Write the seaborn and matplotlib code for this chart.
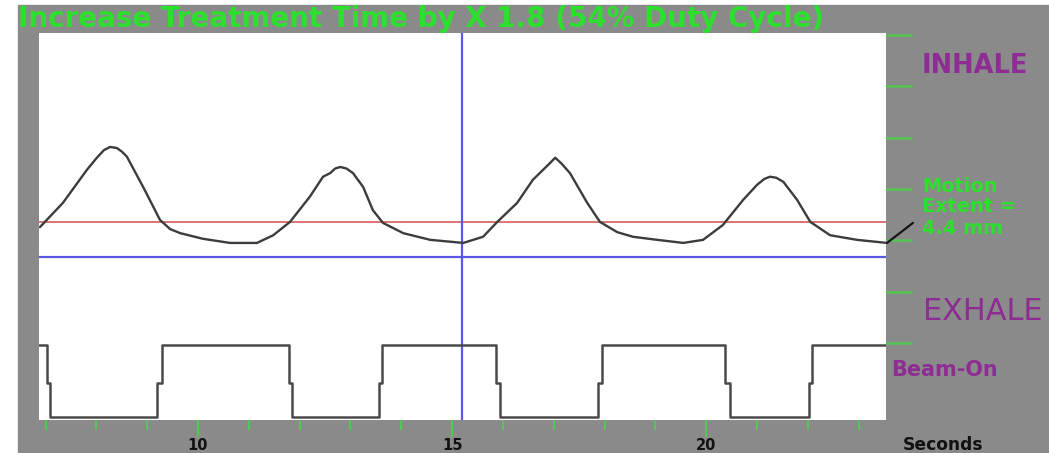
import matplotlib
matplotlib.use("Agg")
import matplotlib.pyplot as plt
from matplotlib.patches import Rectangle
import seaborn as sns
import pandas as pd

# ---------------- data ----------------
breath_time = [6.89, 7.34, 7.81, 8.00, 8.15, 8.27, 8.40, 8.50, 8.60, 8.92, 9.25, 9.45, 9.65,
               10.10, 10.63, 11.16, 11.48, 11.81, 12.20, 12.46, 12.60, 12.70, 12.80, 12.92,
               13.05, 13.25, 13.44, 13.64, 14.04, 14.57, 15.22, 15.61, 15.89, 16.28,
               16.59, 16.90, 17.03, 17.15, 17.32, 17.66, 17.91, 18.25, 18.56, 19.04, 19.55, 19.94,
               20.33, 20.73, 21.00, 21.15, 21.26, 21.38, 21.52, 21.79, 22.05, 22.44, 22.97, 23.56]
breath_pos = [3.26, 3.73, 4.37, 4.60, 4.76, 4.82, 4.80, 4.73, 4.63, 4.04, 3.40, 3.22, 3.14,
              3.03, 2.95, 2.95, 3.10, 3.36, 3.85, 4.24, 4.31, 4.40, 4.43, 4.40,
              4.31, 4.04, 3.59, 3.34, 3.14, 3.01, 2.95, 3.07, 3.36, 3.73,
              4.18, 4.48, 4.61, 4.50, 4.31, 3.73, 3.36, 3.16, 3.07, 3.01, 2.95, 3.01,
              3.30, 3.79, 4.08, 4.20, 4.24, 4.22, 4.14, 3.79, 3.36, 3.10, 3.01, 2.95]

beam_time = [6.87, 7.03, 7.03, 7.09, 7.09, 9.19, 9.19, 9.29, 9.29,
             11.80, 11.80, 11.85, 11.85, 13.57, 13.57, 13.62, 13.62,
             15.87, 15.87, 15.94, 15.94, 17.87, 17.87, 17.95, 17.95,
             20.37, 20.37, 20.47, 20.47, 22.03, 22.03, 22.09, 22.09, 23.54]
beam_level = [0.96, 0.96, 0.22, 0.22, -0.44, -0.44, 0.22, 0.22, 0.96,
              0.96, 0.22, 0.22, -0.44, -0.44, 0.22, 0.22, 0.96,
              0.96, 0.22, 0.22, -0.44, -0.44, 0.22, 0.22, 0.96,
              0.96, 0.22, 0.22, -0.44, -0.44, 0.22, 0.22, 0.96, 0.96]

gate_level = 3.36        # red threshold line
baseline_level = 2.68    # blue horizontal line
cursor_time = 15.20      # blue vertical cursor
leader_time = [23.56, 24.07]
leader_pos = [2.95, 3.34]

x_major = [10, 15, 20]
x_major_labels = ["10", "15", "20"]
x_minor = [7, 8, 9, 11, 12, 13, 14, 16, 17, 18, 19, 21, 22, 23]
y_ticks = [1, 2, 3, 4, 5, 6, 7]

title = "Increase Treatment Time by X 1.8 (54% Duty Cycle)"
motion_lines = ["Motion", "Extent =", "4.4 mm"]

# ---------------- style ----------------
sns.set_theme(style="white")
plt.rcParams['font.family'] = ['DejaVu Sans']

W, H = 1049, 453
GRAY = '#8a8a8a'
GREEN = '#2ee02e'
PURPLE = '#8e2c93'
TICKGREEN = '#52c852'

fig = plt.figure(figsize=(W / 100, H / 100), dpi=100)
fig.patch.set_facecolor('white')
fig.patches.append(Rectangle((18 / W, 0), 1 - 18 / W, 1 - 5 / H,
                             transform=fig.transFigure, color=GRAY, zorder=-10))

ax = fig.add_axes([39 / W, 1 - 419.5 / H, (886 - 39) / W, (419.5 - 33) / H])
ax.set_facecolor('white')

df_b = pd.DataFrame({"t": breath_time, "pos": breath_pos})
df_g = pd.DataFrame({"t": beam_time, "lvl": beam_level})

ax.axhline(gate_level, color='#d05050', lw=1.1, zorder=2)
ax.axhline(baseline_level, color='#5a5ae0', lw=1.6, zorder=2)
ax.axvline(cursor_time, color='#5a5ae8', lw=1.6, zorder=2)

sns.lineplot(data=df_b, x="t", y="pos", ax=ax, sort=False, estimator=None,
             color='#3c3c3c', lw=1.7, zorder=3)
sns.lineplot(data=df_g, x="t", y="lvl", ax=ax, sort=False, estimator=None,
             color='#4a4a4a', lw=1.8, zorder=3)
ax.plot(leader_time, leader_pos, color='#151515', lw=1.6, clip_on=False, zorder=4)

ax.set_xlim(6.87, 23.54)
ax.set_ylim(-0.49, 7.04)
ax.set_xlabel("")
ax.set_ylabel("")
for s in ax.spines.values():
    s.set_visible(False)

ax.set_xticks(x_major)
ax.set_xticklabels(x_major_labels, fontsize=10.5, fontweight='bold', color='#111111')
ax.set_xticks(x_minor, minor=True)
ax.tick_params(axis='x', which='major', direction='out', length=12, width=1.6,
               color=TICKGREEN, pad=1.5, bottom=True)
ax.tick_params(axis='x', which='minor', direction='out', length=7, width=1.4,
               color=TICKGREEN, bottom=True)

ax.yaxis.tick_right()
ax.set_yticks(y_ticks)
ax.set_yticklabels([])
ax.tick_params(axis='y', which='major', direction='out', length=18.7, width=1.8,
               color=TICKGREEN, right=True, left=False)
ax.grid(False)

# ---------------- texts ----------------
t_title = fig.text(18 / W, 1 - 19 / H, title, color=GREEN, fontsize=18,
                   fontweight='bold', ha='left', va='center')
t_inh = fig.text(922 / W, 1 - 66 / H, "INHALE", color=PURPLE, fontsize=15,
                 fontweight='bold', ha='left', va='center')
t_exh = fig.text(923 / W, 1 - 311 / H, "EXHALE", color=PURPLE, fontsize=15,
                 ha='left', va='center')
t_beam = fig.text(891 / W, 1 - 370 / H, "Beam-On", color=PURPLE, fontsize=13,
                  fontweight='bold', ha='left', va='center')
t_mot = []
for i, (line, ypx) in enumerate(zip(motion_lines, [187, 207, 228])):
    t_mot.append(fig.text(922 / W, 1 - ypx / H, line, color=GREEN, fontsize=12.5,
                          fontweight='bold', ha='left', va='center'))
t_sec = fig.text(903 / W, 1 - 450 / H, "Seconds", color='#111111', fontsize=11,
                 fontweight='bold', ha='left', va='baseline')

# fit widths of the texts to the measured widths in the reference
renderer = fig.canvas.get_renderer()
def fit(txt, target_px):
    w = txt.get_window_extent(renderer).width
    txt.set_fontsize(txt.get_fontsize() * target_px / w)

fit(t_title, 806)
fit(t_inh, 106)
fit(t_exh, 119)
fit(t_beam, 106)
fit(t_mot[0], 75)
fit(t_sec, 80)
for t in t_mot[1:]:
    t.set_fontsize(t_mot[0].get_fontsize())

fig.savefig("out.png", dpi=100, facecolor=fig.get_facecolor())
